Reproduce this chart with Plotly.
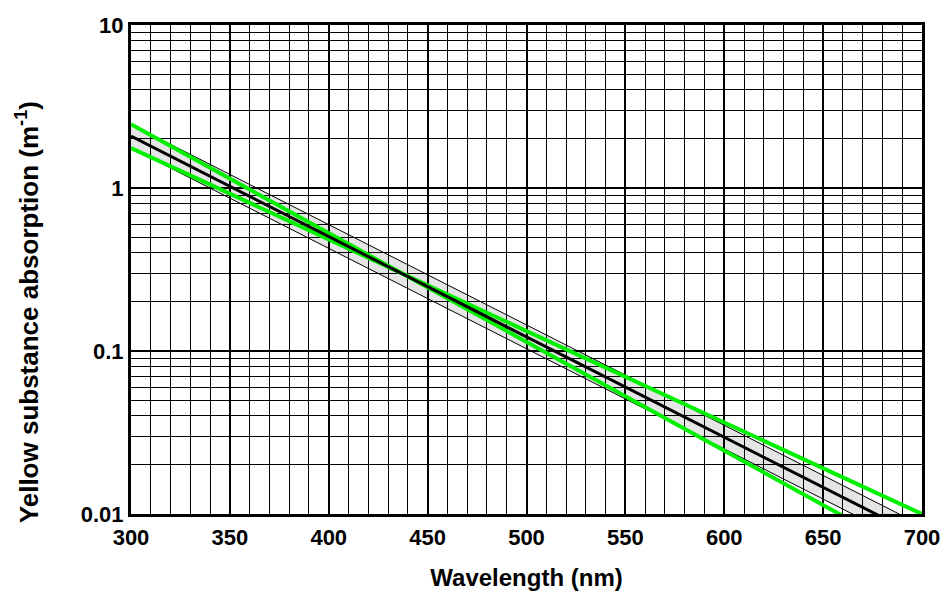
import plotly.graph_objects as go

# Data (wavelength in nm, absorption in m^-1)
wavelength = [300, 350, 400, 450, 500, 550, 600, 650, 700]
center = [2.08, 1.02, 0.504, 0.248, 0.122, 0.0601, 0.0296, 0.0146, 0.00718]
band_upper = [2.46, 1.21, 0.596, 0.294, 0.1445, 0.0711, 0.0351, 0.01726, 0.00849]
band_lower = [1.76, 0.865, 0.426, 0.210, 0.1033, 0.0508, 0.0251, 0.01233, 0.00607]
green_steep = [2.46, 1.14, 0.530, 0.245, 0.114, 0.0528, 0.0245, 0.01136, 0.00526]
green_shallow = [1.76, 0.923, 0.484, 0.253, 0.133, 0.0695, 0.0364, 0.0191, 0.0100]

y_tickvals = [0.01, 0.1, 1, 10]
y_ticktext = ["0.01", "0.1", "1", "10"]
x_tickvals = [300, 350, 400, 450, 500, 550, 600, 650, 700]

y_minor = [m * 10 ** e for e in (-2, -1, 0) for m in range(2, 10)]

FONT = "Liberation Sans, Arial, sans-serif"

fig = go.Figure()
fig.add_trace(go.Scatter(x=wavelength, y=band_lower, mode="lines",
                         line=dict(color="black", width=1), showlegend=False, hoverinfo="skip"))
fig.add_trace(go.Scatter(x=wavelength, y=band_upper, mode="lines", fill="tonexty",
                         fillcolor="rgba(0,0,0,0.10)",
                         line=dict(color="black", width=1), showlegend=False, hoverinfo="skip"))
fig.add_trace(go.Scatter(x=wavelength, y=green_steep, mode="lines",
                         line=dict(color="#00f000", width=4), showlegend=False))
fig.add_trace(go.Scatter(x=wavelength, y=green_shallow, mode="lines",
                         line=dict(color="#00f000", width=4), showlegend=False))
fig.add_trace(go.Scatter(x=wavelength, y=center, mode="lines",
                         line=dict(color="black", width=3), showlegend=False))

fig.update_layout(
    width=943, height=591,
    margin=dict(l=131, r=21, t=25, b=77),
    paper_bgcolor="white", plot_bgcolor="white",
    font=dict(family=FONT, size=22, color="black", weight="bold"),
    showlegend=False,
)
fig.update_xaxes(
    range=[300, 700], tickmode="array", tickvals=x_tickvals, automargin=False,
    showgrid=True, gridcolor="black", gridwidth=2,
    minor=dict(dtick=10, showgrid=True, gridcolor="black", gridwidth=1),
    showline=True, linecolor="black", linewidth=3, mirror=True,
    ticks="", ticklabelstandoff=2, zeroline=False,
    tickfont=dict(family=FONT, size=22, weight="bold"),
    title=dict(text="Wavelength (nm)", standoff=26,
               font=dict(family=FONT, size=24, weight="bold")),
)
fig.update_yaxes(
    type="log", range=[-2, 1], tickmode="array", tickvals=y_tickvals, ticktext=y_ticktext,
    automargin=False,
    showgrid=True, gridcolor="black", gridwidth=2,
    minor=dict(tickmode="array", tickvals=y_minor, showgrid=True, gridcolor="black", gridwidth=1),
    showline=True, linecolor="black", linewidth=3, mirror=True,
    ticks="", ticklabelstandoff=0, zeroline=False,
    tickfont=dict(family=FONT, size=22, weight="bold"),
)

# y-axis title placed as a rotated annotation (sits lower than the plot centre in the reference)
fig.add_annotation(
    text="Yellow substance absorption (m<sup>-1</sup>)",
    xref="paper", yref="paper", x=-0.1314, y=0.4128,
    xanchor="center", yanchor="middle", textangle=-90, showarrow=False,
    font=dict(family=FONT, size=26, weight="bold", color="black"),
)

fig.write_html("out.html")
